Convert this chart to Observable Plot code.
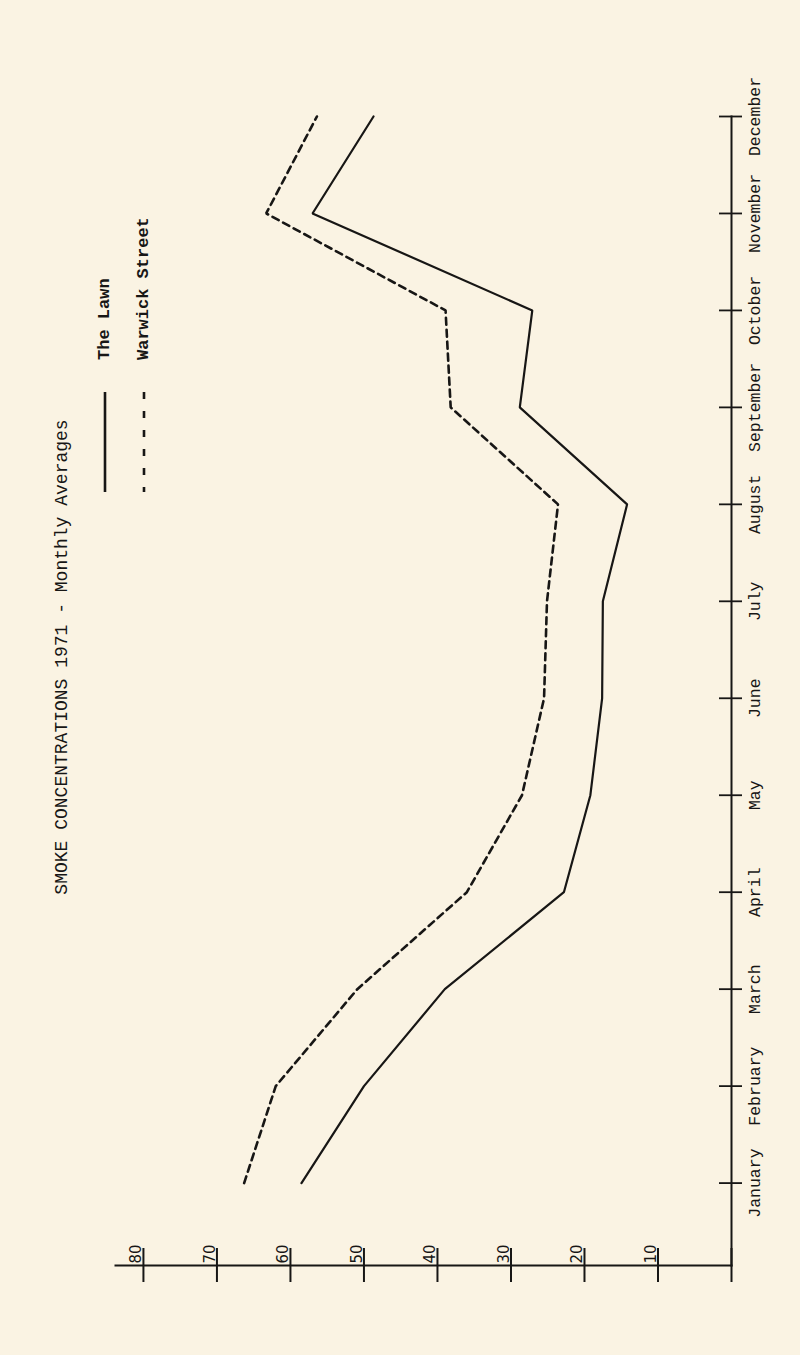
<!DOCTYPE html>
<html>
<head>
<meta charset="utf-8">
<script src="https://cdn.jsdelivr.net/npm/d3@7"></script>
<script src="https://cdn.jsdelivr.net/npm/@observablehq/plot@0.6"></script>
<style>
html, body { margin: 0; padding: 0; background: #faf3e3; }
#wrap { position: relative; width: 800px; height: 1355px; overflow: hidden; }
#wrap > svg { position: absolute; left: 0; top: 0; }
</style>
</head>
<body>
<div id="wrap"></div>
<script>
// ---- data ----
const months = ["January", "February", "March", "April", "May", "June",
                "July", "August", "September", "October", "November", "December"];
const lawn    = [58.5, 50.0, 39.0, 22.8, 19.2, 17.6, 17.5, 14.2, 28.8, 27.1, 57.0, 48.7];
const warwick = [66.3, 62.0, 50.9, 36.0, 28.5, 25.5, 25.1, 23.6, 38.2, 38.9, 63.3, 56.4];
const seriesNames = ["The Lawn", "Warwick Street"];
const valueTicks = [0, 10, 20, 30, 40, 50, 60, 70, 80];
const valueTickLabels = ["", "10", "20", "30", "40", "50", "60", "70", "80"];
const title = "SMOKE CONCENTRATIONS 1971 - Monthly Averages";

// ---- table ----
const rows = months.flatMap((m, i) => [
  {month: i, name: m, value: lawn[i], series: seriesNames[0]},
  {month: i, name: m, value: warwick[i], series: seriesNames[1]}
]);
const monthIdx = months.map((m, i) => i);
const ink = "#171615";
const mono = "'Liberation Mono', 'DejaVu Sans Mono', monospace";

const chart = Plot.plot({
  width: 800,
  height: 1355,
  marginLeft: 115,
  marginRight: 69,
  marginTop: 116,
  marginBottom: 90,
  style: {background: "transparent", color: ink, fontFamily: mono},
  x: {domain: [0, 83.8], reverse: true, axis: null},
  y: {domain: [-0.85, 11], axis: null},
  marks: [
    Plot.frame({anchor: "bottom", stroke: ink, strokeWidth: 2}),
    Plot.frame({anchor: "right", stroke: ink, strokeWidth: 2}),
    // value-axis ticks crossing the base line
    Plot.ruleX(valueTicks, {x: d => d, insetTop: 1132, insetBottom: -17, stroke: ink, strokeWidth: 2}),
    Plot.text(valueTicks, {
      x: d => d, text: (d, i) => valueTickLabels[i], frameAnchor: "bottom",
      rotate: -90, textAnchor: "start", lineAnchor: "bottom", dx: -2, dy: -2,
      fontSize: 15, fontFamily: "'DejaVu Sans', sans-serif", fill: ink
    }),
    // month ticks crossing the right axis
    Plot.ruleY(monthIdx, {y: d => d, insetLeft: 604, insetRight: -11, stroke: ink, strokeWidth: 1.8}),
    Plot.text(monthIdx, {
      y: d => d, text: d => months[d], frameAnchor: "right",
      rotate: -90, textAnchor: "middle", lineAnchor: "top", dx: 17,
      fontSize: 16.5, fontFamily: mono, fill: ink
    }),
    // series
    Plot.line(rows, {filter: d => d.series === seriesNames[0], x: "value", y: "month",
      stroke: ink, strokeWidth: 2.2, strokeLinejoin: "miter"}),
    Plot.line(rows, {filter: d => d.series === seriesNames[1], x: "value", y: "month",
      stroke: ink, strokeWidth: 2.6, strokeDasharray: "7,5", strokeLinejoin: "miter"})
  ]
});

const wrap = document.getElementById("wrap");
wrap.appendChild(chart);

// ---- title and legend (rotated, as in the original sheet) ----
const overlay = d3.create("svg").attr("width", 800).attr("height", 1355)
  .style("position", "absolute").style("left", 0).style("top", 0);

overlay.append("text")
  .attr("transform", "translate(62,657) rotate(-90)")
  .attr("text-anchor", "middle").attr("dominant-baseline", "central")
  .attr("font-family", mono).attr("font-size", 18).attr("fill", ink)
  .text(title);

const legend = [
  {name: seriesNames[0], x: 104, dash: null},
  {name: seriesNames[1], x: 143, dash: "7,12"}
];
legend.forEach(l => {
  overlay.append("line")
    .attr("x1", l.x + 1).attr("x2", l.x + 1).attr("y1", 392).attr("y2", 492)
    .attr("stroke", ink).attr("stroke-width", 2.6)
    .attr("stroke-dasharray", l.dash);
  overlay.append("text")
    .attr("transform", `translate(${l.x},360) rotate(-90)`)
    .attr("text-anchor", "start").attr("dominant-baseline", "central")
    .attr("font-family", mono).attr("font-weight", "bold")
    .attr("font-size", 17).attr("fill", ink)
    .text(l.name);
});
wrap.appendChild(overlay.node());
</script>
</body>
</html>
